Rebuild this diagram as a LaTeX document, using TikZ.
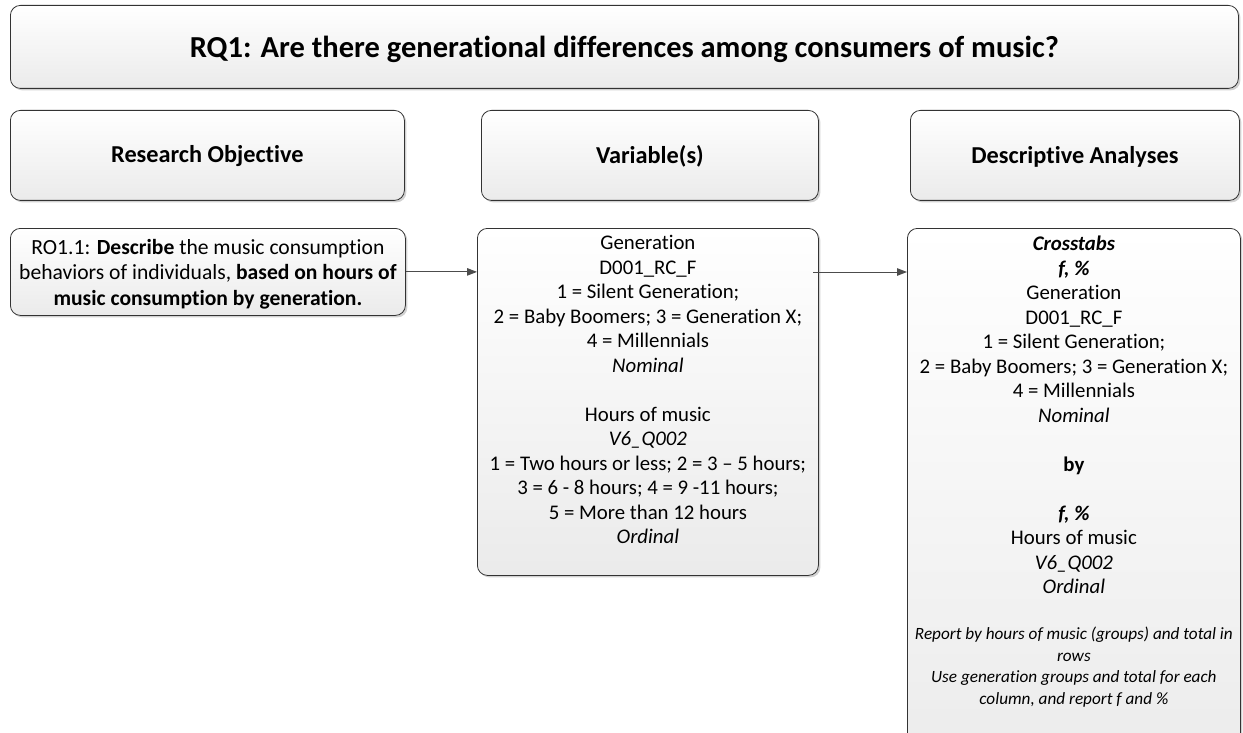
\documentclass[tikz,border=0pt]{standalone}
\usepackage{fontspec}
\setmainfont{Carlito}[Ligatures={NoCommon}]
\usetikzlibrary{shadows,arrows.meta,calc}
\begin{document}
\begin{tikzpicture}[x=1pt,y=-1pt,
  box/.style={draw=black!80, line width=0.8pt, rounded corners=10pt,
    top color=white, bottom color=black!8,
    drop shadow={shadow xshift=2pt, shadow yshift=-2pt, opacity=0.3, fill=black!60},
    inner sep=0pt, anchor=north west},
  txt/.style={align=center, inner sep=0pt, font=\fontsize{20.8}{24.5}\selectfont},
  hdr/.style={font=\fontsize{24.3}{29}\selectfont\bfseries},
  note/.style={align=center, inner sep=0pt, font=\fontsize{17.2}{21.6}\selectfont\itshape},
  link/.style={draw=black!70, line width=1pt, -{Triangle[length=10pt,width=7.5pt]}}]
\useasboundingbox (0,0) rectangle (1243,733);
\clip (0,0) rectangle (1243,733);

% title banner
\node[box, minimum width=1228pt, minimum height=83pt] (title) at (10,5) {};
\node[font=\fontsize{30.5}{36}\selectfont\bfseries] (titletext) at ($(title.center)+(0,2)$)
  {RQ1: Are there generational differences among consumers of music?};

% column headers
\node[box, minimum width=394pt, minimum height=90pt] (h1) at (10,110) {};
\node[hdr] (h1t) at ($(h1.center)+(0,1)$) {Research Objective};
\node[box, minimum width=337pt, minimum height=90pt] (h2) at (481,110) {};
\node[hdr] (h2t) at ($(h2.center)+(0,1)$) {Variable(s)};
\node[box, minimum width=329pt, minimum height=90pt] (h3) at (910,110) {};
\node[hdr] (h3t) at ($(h3.center)+(0,1)$) {Descriptive Analyses};

% research objective
\node[box, minimum width=395pt, minimum height=87pt] (ro) at (10,228) {};
\node[txt, font=\fontsize{21.6}{25.5}\selectfont] (rot) at ($(ro.center)+(0,2)$)
  {RO1.1: \textbf{Describe} the music consumption\\
  behaviors of individuals, \textbf{based on hours of}\\
  \textbf{music consumption by generation.}};

% variables
\node[box, minimum width=341pt, minimum height=347pt] (var) at (477,228) {};
\node[txt, anchor=north] (vart) at ($(var.north)+(0,7)$) {Generation\\
  D001\_RC\_F\\
  1 = Silent Generation;\\
  2 = Baby Boomers; 3 = Generation X;\\
  4 = Millennials\\
  \textit{Nominal}\\[24.5pt]
  Hours of music\\
  \textit{V6\_Q002}\\
  1 = Two hours or less; 2 = 3 -- 5 hours;\\
  3 = 6 - 8 hours; 4 = 9 -11 hours;\\
  5 = More than 12 hours\\
  \textit{Ordinal}};

% descriptive analyses
\node[box, minimum width=333pt, minimum height=560pt] (desc) at (907,228) {};
\node[txt, anchor=north] (desct) at ($(desc.north)+(0,8)$) {\textbf{\textit{Crosstabs}}\\
  \textbf{\textit{f, \%}}\\
  Generation\\
  D001\_RC\_F\\
  1 = Silent Generation;\\
  2 = Baby Boomers; 3 = Generation X;\\
  4 = Millennials\\
  \textit{Nominal}\\[24.5pt]
  \textbf{by}\\[24.5pt]
  \textbf{\textit{f, \%}}\\
  Hours of music\\
  \textit{V6\_Q002}\\
  \textit{Ordinal}};
\node[note, anchor=north] (descn) at ($(desc.north)+(0,399)$)
  {Report by hours of music (groups) and total in\\
  rows\\
  Use generation groups and total for each\\
  column, and report \textit{f} and \%};

% connectors
\draw[link] (ro.east) -- (ro.east -| var.west);
\coordinate (vout) at (813,272);
\draw[link] (vout) -- (vout -| desc.west);
\end{tikzpicture}
\end{document}
